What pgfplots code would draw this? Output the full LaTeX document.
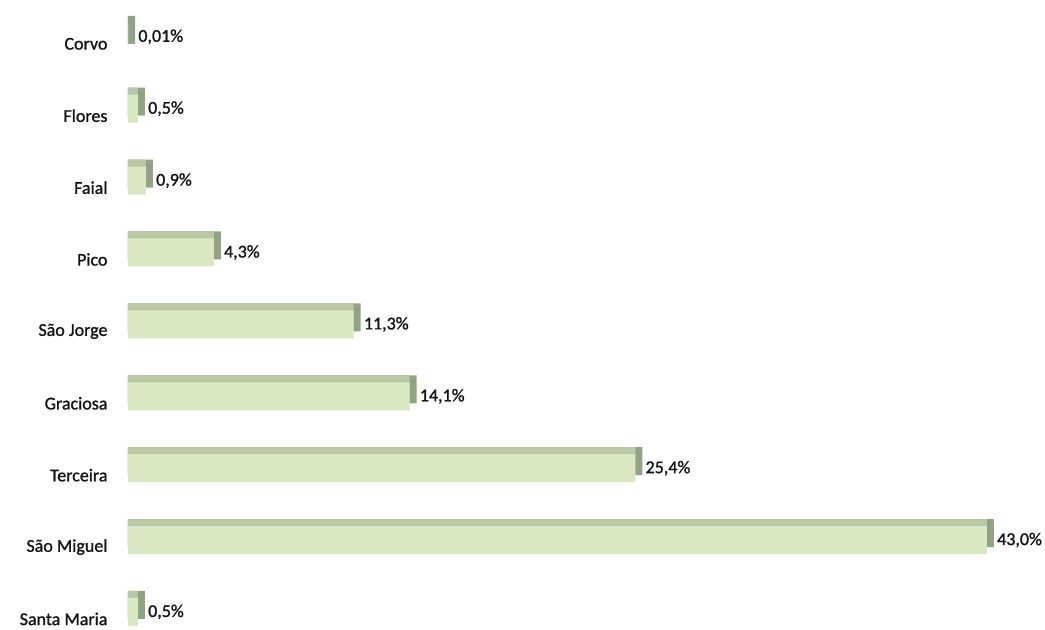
\documentclass[border=0pt]{standalone}
\usepackage{pgfplots}
\pgfplotsset{compat=1.18}
\usepackage{pgfplotstable}
\usepackage{fontspec}
\setmainfont{Carlito}
\newfontfamily\labfont[FakeBold=1.2]{Carlito}
\definecolor{frontc}{RGB}{218,232,194}
\definecolor{topc}{RGB}{184,199,164}
\definecolor{sidec}{RGB}{145,163,135}
\definecolor{txt}{RGB}{20,20,20}
\pgfplotstableread{
y v lab
0 0.5 0,5\%
1 43.0 43,0\%
2 25.4 25,4\%
3 14.1 14,1\%
4 11.3 11,3\%
5 4.3 4,3\%
6 0.9 0,9\%
7 0.5 0,5\%
8 0.01 0,01\%
}\data
\begin{document}
\begin{tikzpicture}
\begin{axis}[
  at={(0,0)}, anchor=south west,
  scale only axis,
  width=917pt, height=630pt,
  xmin=0, xmax=45.9,
  ymin=-0.25, ymax=8.512,
  axis line style={draw=none},
  major tick length=0pt,
  xtick=\empty,
  ytick={0,1,2,3,4,5,6,7,8},
  yticklabels={Santa Maria,São Miguel,Terceira,Graciosa,São Jorge,Pico,Faial,Flores,Corvo},
  yticklabel style={font=\labfont\fontsize{18}{20}\selectfont, text=txt, xshift=-17pt, yshift=-7pt},
  clip=false,
  xbar, bar width=28pt,
]
\addplot[xbar, bar width=28pt, bar shift=7pt, fill=sidec, draw=none]
  table[x expr=\thisrow{v}+0.35, y=y] {\data};
\addplot[xbar, bar width=28pt, bar shift=7pt, fill=topc, draw=none]
  table[x=v, y=y] {\data};
\addplot[xbar, bar width=28pt, bar shift=0pt, fill=frontc, draw=none,
  nodes near coords, point meta=explicit symbolic,
  nodes near coords style={anchor=west, inner sep=0pt, xshift=10pt,
    font=\labfont\fontsize{18}{20}\selectfont, text=txt}]
  table[x=v, y=y, meta=lab] {\data};
\end{axis}
\path (-128pt,0) rectangle (917pt,630pt);
\end{tikzpicture}
\end{document}
